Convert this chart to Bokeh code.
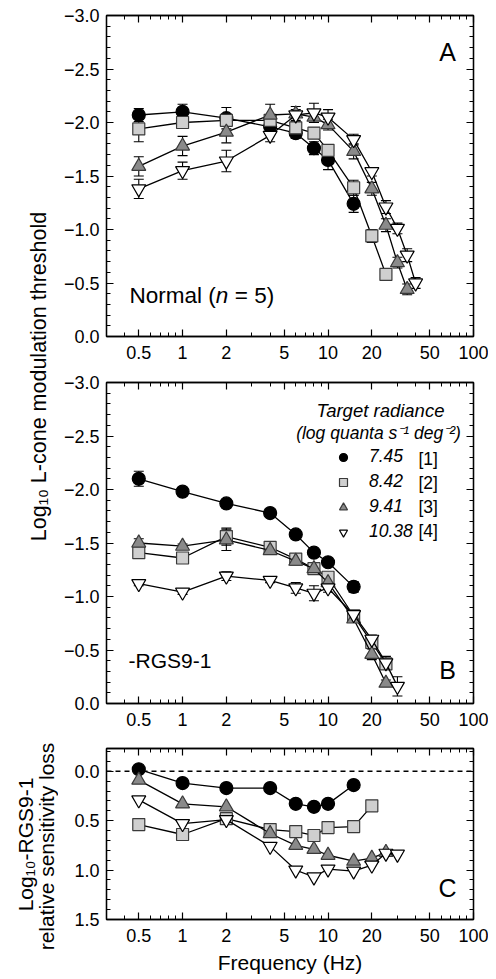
import math
from bokeh.plotting import figure
from bokeh.models import (FixedTicker, CustomJSTickFormatter, LogAxis, LinearAxis, Whisker,
                          TeeHead, ColumnDataSource, Label, Range1d, Span, Legend, LegendItem)
from bokeh.layouts import column, row
from bokeh.embed import file_html
from bokeh.resources import INLINE

FONT = "Liberation Sans"

# ---------------- data ----------------
x_ticks = [0.5, 1, 2, 5, 10, 20, 50, 100]
x_minor = [0.3, 0.4, 0.6, 0.7, 0.8, 0.9, 3, 4, 6, 7, 8, 9, 30, 40, 60, 70, 80, 90]
y_ticks_ab = [-3.0, -2.5, -2.0, -1.5, -1.0, -0.5, 0.0]
y_ticks_c = [0.0, 0.5, 1.0, 1.5]

radiance = ["7.45", "8.42", "9.41", "10.38"]
radiance_idx = ["[1]", "[2]", "[3]", "[4]"]

# Panel A (Normal, n = 5)
freq_a1 = [0.5, 1, 2, 4, 6, 8, 10, 15]
val_a1 = [-2.07, -2.10, -2.04, -1.96, -1.90, -1.76, -1.65, -1.24]
err_a1 = [0.06, 0.07, 0.10, 0.06, 0.05, 0.06, 0.09, 0.08]
freq_a2 = [0.5, 1, 2, 4, 6, 8, 10, 15, 20, 25]
val_a2 = [-1.94, -2.00, -2.02, -2.02, -1.95, -1.90, -1.74, -1.39, -0.94, -0.58]
err_a2 = [0.12, 0.05, 0.05, 0.05, 0.05, 0.05, 0.05, 0.07, 0.06, 0.04]
freq_a3 = [0.5, 1, 2, 4, 6, 8, 10, 15, 20, 25, 30, 35]
val_a3 = [-1.59, -1.78, -1.91, -2.07, -2.08, -2.05, -1.98, -1.73, -1.38, -1.04, -0.69, -0.44]
err_a3 = [0.09, 0.09, 0.10, 0.10, 0.07, 0.05, 0.05, 0.07, 0.06, 0.06, 0.05, 0.05]
freq_a4 = [0.5, 1, 2, 4, 6, 8, 10, 15, 20, 25, 30, 35, 40]
val_a4 = [-1.38, -1.55, -1.64, -1.88, -2.07, -2.09, -2.05, -1.84, -1.54, -1.21, -1.01, -0.76, -0.50]
err_a4 = [0.09, 0.08, 0.10, 0.06, 0.05, 0.09, 0.07, 0.05, 0.04, 0.06, 0.05, 0.06, 0.05]

# Panel B (-RGS9-1)
freq_b1 = [0.5, 1, 2, 4, 6, 8, 10, 15]
val_b1 = [-2.10, -1.98, -1.87, -1.78, -1.58, -1.41, -1.32, -1.09]
err_b1 = [0.07, 0.03, 0.02, 0.02, 0.02, 0.02, 0.02, 0.05]
freq_b2 = [0.5, 1, 2, 4, 6, 8, 10, 15, 20, 25]
val_b2 = [-1.41, -1.36, -1.56, -1.46, -1.35, -1.26, -1.18, -0.82, -0.57, -0.37]
err_b2 = [0.02, 0.02, 0.08, 0.04, 0.03, 0.03, 0.03, 0.03, 0.04, 0.03]
freq_b3 = [0.5, 1, 2, 4, 6, 8, 10, 15, 20, 25]
val_b3 = [-1.50, -1.47, -1.53, -1.43, -1.33, -1.26, -1.13, -0.79, -0.46, -0.19]
err_b3 = [0.04, 0.02, 0.10, 0.03, 0.03, 0.04, 0.04, 0.03, 0.05, 0.03]
freq_b4 = [0.5, 1, 2, 4, 6, 8, 10, 15, 20, 25, 30]
val_b4 = [-1.12, -1.04, -1.19, -1.15, -1.08, -1.03, -1.08, -0.83, -0.60, -0.38, -0.16]
err_b4 = [0.02, 0.02, 0.04, 0.02, 0.05, 0.07, 0.04, 0.03, 0.04, 0.06, 0.09]

# Panel C (relative sensitivity loss)
freq_c1 = [0.5, 1, 2, 4, 6, 8, 10, 15]
val_c1 = [-0.02, 0.12, 0.17, 0.17, 0.33, 0.36, 0.33, 0.14]
freq_c2 = [0.5, 1, 2, 4, 6, 8, 10, 15, 20]
val_c2 = [0.54, 0.64, 0.48, 0.59, 0.61, 0.65, 0.57, 0.56, 0.35]
freq_c3 = [0.5, 1, 2, 4, 6, 8, 10, 15, 20, 25]
val_c3 = [0.09, 0.33, 0.36, 0.63, 0.75, 0.79, 0.85, 0.91, 0.88, 0.82]
freq_c4 = [0.5, 1, 2, 4, 6, 8, 10, 15, 20, 25, 30]
val_c4 = [0.29, 0.53, 0.49, 0.76, 1.00, 1.07, 0.99, 1.01, 0.95, 0.83, 0.84]

# ---------------- styles ----------------
STYLES = [
    dict(marker="circle", fill_color="black", line_color="black", size=13),
    dict(marker="square", fill_color="#cfcfcf", line_color="#3a3a3a", size=12),
    dict(marker="triangle", fill_color="#8a8a8a", line_color="#3a3a3a", size=14),
    dict(marker="inverted_triangle", fill_color="white", line_color="black", size=14),
]

X0, X1 = 0.3, 100.0
FRAME_W = 367
FRAME_AB = 321.0


def fx(px_from_left):
    """frame pixel offset -> frequency (log axis)"""
    return X0 * 10 ** (px_from_left / FRAME_W * math.log10(X1 / X0))


def fy_ab(px_from_top):
    return -3.0 + px_from_top / FRAME_AB * 3.0


def style_panel(p, yticks, yminor, show_xlabel=False):
    xt = FixedTicker(ticks=x_ticks, minor_ticks=x_minor)
    yt = FixedTicker(ticks=yticks, minor_ticks=yminor)
    bx = p.xaxis[0]
    ly = p.yaxis[0]
    bx.ticker = xt
    ly.ticker = yt
    bx.formatter = CustomJSTickFormatter(code="return String(Math.round(tick*10)/10);")
    ly.formatter = CustomJSTickFormatter(
        code="var a = Math.abs(tick).toFixed(1); return (tick < -1e-9 ? '\\u2212' : '') + a;")
    top = LogAxis(ticker=xt)
    right = LinearAxis(ticker=yt)
    for ax in (top, right):
        ax.major_label_text_font_size = "1px"
        ax.major_label_text_color = None
        ax.major_label_standoff = 0
    p.add_layout(top, "above")
    p.add_layout(right, "right")
    for ax in (bx, ly, top, right):
        ax.major_tick_in = 7
        ax.major_tick_out = 0
        ax.minor_tick_in = 4
        ax.minor_tick_out = 0
        ax.axis_line_color = "black"
        ax.axis_line_width = 1.3
        ax.major_tick_line_color = "black"
        ax.minor_tick_line_color = "black"
        ax.major_tick_line_width = 1.2
        ax.minor_tick_line_width = 1.0
    for ax in (bx, ly):
        ax.major_label_text_font = FONT
        ax.major_label_text_font_size = "18px"
        ax.major_label_text_color = "black"
    bx.major_label_standoff = 9
    ly.major_label_standoff = 7
    if show_xlabel:
        bx.axis_label = "Frequency (Hz)"
        bx.axis_label_text_font = FONT
        bx.axis_label_text_font_size = "21px"
        bx.axis_label_text_font_style = "normal"
        bx.axis_label_text_color = "black"
        bx.axis_label_standoff = 6
    p.xgrid.visible = False
    p.ygrid.visible = False
    p.outline_line_color = "black"
    p.outline_line_width = 1.3


def new_panel(height, top, bottom, y0, y1):
    return figure(width=430, height=height, x_axis_type="log",
                  x_range=Range1d(X0, X1), y_range=Range1d(y0, y1),
                  min_border_left=48, min_border_right=15,
                  min_border_top=top, min_border_bottom=bottom,
                  output_backend="svg", toolbar_location=None)


def add_series(p, freqs, vals, errs, style):
    src = dict(x=freqs, y=vals)
    if errs is not None:
        src["lo"] = [v - e for v, e in zip(vals, errs)]
        src["hi"] = [v + e for v, e in zip(vals, errs)]
    cds = ColumnDataSource(src)
    p.line("x", "y", source=cds, line_color="black", line_width=1.3)
    if errs is not None:
        w = Whisker(source=cds, base="x", lower="lo", upper="hi", dimension="height",
                    line_color="black", line_width=1.1, level="underlay",
                    lower_head=TeeHead(size=10, line_color="black", line_width=1.1),
                    upper_head=TeeHead(size=10, line_color="black", line_width=1.1))
        p.add_layout(w)
    r = p.scatter("x", "y", source=cds, marker=style["marker"], size=style["size"],
                  fill_color=style["fill_color"], line_color=style["line_color"], line_width=1.2)
    return r


def text(p, x, y, s, size="20px", style="normal", align="left", baseline="middle", angle=0):
    p.add_layout(Label(x=x, y=y, text=s, text_font=FONT, text_font_size=size,
                       text_font_style=style, text_align=align, text_baseline=baseline,
                       text_color="black", angle=angle))


minor_ab = [round(-3.0 + 0.1 * i, 1) for i in range(31)]
minor_c = [round(-0.2 + 0.1 * i, 1) for i in range(18)]

# ---------------- panel A ----------------
pA = new_panel(372, 15, 36, 0.0, -3.0)
style_panel(pA, y_ticks_ab, minor_ab)
for f, v, e, st in zip([freq_a1, freq_a2, freq_a3, freq_a4], [val_a1, val_a2, val_a3, val_a4],
                       [err_a1, err_a2, err_a3, err_a4], STYLES):
    add_series(pA, f, v, e, st)
text(pA, fx(341), fy_ab(36), "A", size="25px", align="center")
ya = fy_ab(280)
text(pA, fx(23), ya, "Normal (", size="22.5px")
text(pA, fx(23 + 86.3), ya, "n", size="22.5px", style="italic")
text(pA, fx(23 + 86.3 + 12.8), ya, "\u00a0= 5)", size="22.5px")

# ---------------- panel B ----------------
pB = new_panel(367, 10, 36, 0.0, -3.0)
style_panel(pB, y_ticks_ab, minor_ab)
rend_b = []
for f, v, e, st in zip([freq_b1, freq_b2, freq_b3, freq_b4], [val_b1, val_b2, val_b3, val_b4],
                       [err_b1, err_b2, err_b3, err_b4], STYLES):
    rend_b.append(add_series(pB, f, v, e, st))
text(pB, fx(341), fy_ab(287), "B", size="25px", align="center")
text(pB, fx(22), fy_ab(278), "-RGS9-1", size="21px")
text(pB, fx(274), fy_ab(28), "Target radiance", size="18.5px", style="italic", align="center")
text(pB, fx(272), fy_ab(50), "(log quanta s\u207b\u00b9 deg\u207b\u00b2)", size="17.5px",
     style="italic", align="center")
legend = Legend(items=[LegendItem(label=lab, renderers=[r]) for lab, r in zip(radiance, rend_b)],
                location=(227, 161), glyph_width=20, glyph_height=20, label_height=20,
                label_width=40, spacing=4, padding=0, margin=0, label_standoff=16,
                border_line_color=None, background_fill_alpha=0,
                label_text_font=FONT, label_text_font_size="17.5px",
                label_text_font_style="italic", label_text_color="black")
pB.add_layout(legend)
for i, lab in enumerate(radiance_idx):
    text(pB, fx(312), fy_ab(76 + 24 * i), lab, size="17.5px")

# ---------------- panel C ----------------
pC = new_panel(238, 9, 58, 1.5, -0.23)
style_panel(pC, y_ticks_c, minor_c, show_xlabel=True)
pC.add_layout(Span(location=0, dimension="width", line_color="black", line_width=1.3,
                   line_dash="5 4", level="underlay"))
for f, v, st in zip([freq_c1, freq_c2, freq_c3, freq_c4], [val_c1, val_c2, val_c3, val_c4], STYLES):
    add_series(pC, f, v, None, st)
text(pC, fx(341), 1.18, "C", size="25px", align="center")

# ---------------- y-axis label column ----------------
H_TOTAL = 372 + 367 + 238
lab = figure(width=58, height=H_TOTAL, x_range=Range1d(0, 58), y_range=Range1d(0, H_TOTAL),
             x_axis_location=None, y_axis_location=None, min_border=0,
             output_backend="svg", toolbar_location=None)
lab.outline_line_color = None
lab.grid.visible = False
text(lab, 38, H_TOTAL - 376, "Log\u2081\u2080 L-cone modulation threshold", size="21.5px",
     align="center", angle=math.pi / 2)
text(lab, 25, H_TOTAL - 844, "Log\u2081\u2080-RGS9-1", size="21px", align="center", angle=math.pi / 2)
text(lab, 46, H_TOTAL - 846, "relative sensitivity loss", size="21px", align="center",
     angle=math.pi / 2)

layout = row(lab, column(pA, pB, pC))

open("out.html", "w").write(file_html(layout, INLINE))
